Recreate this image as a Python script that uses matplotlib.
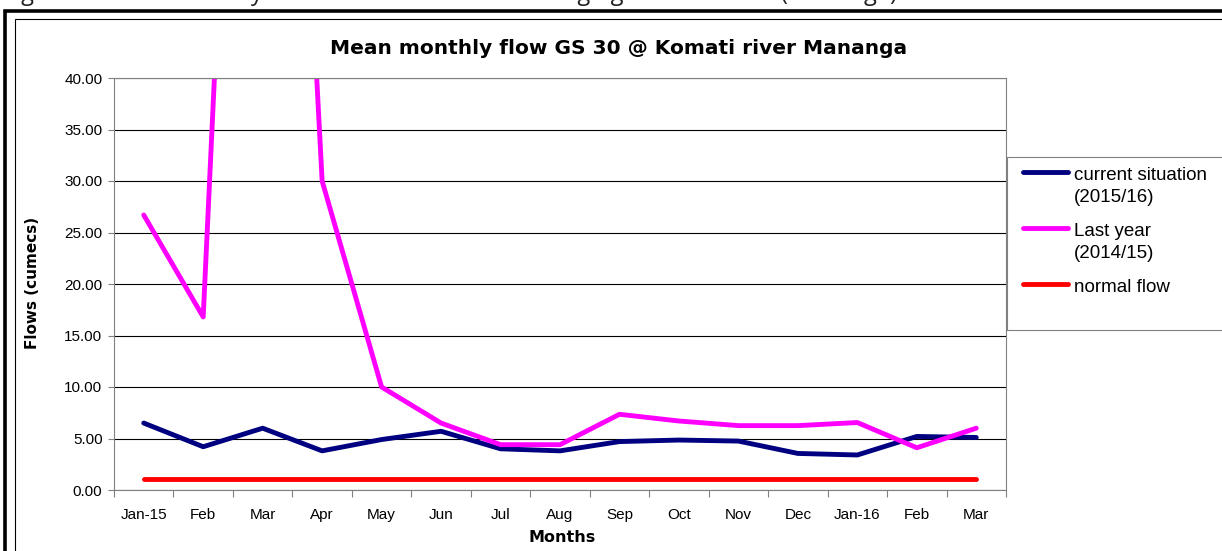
import matplotlib
matplotlib.use('Agg')
import matplotlib.pyplot as plt
from matplotlib.lines import Line2D
from matplotlib.patches import Rectangle
from matplotlib.ticker import FormatStrFormatter
import numpy as np

# values (cumecs)
months = ['Jan-15', 'Feb', 'Mar', 'Apr', 'May', 'Jun', 'Jul', 'Aug',
          'Sep', 'Oct', 'Nov', 'Dec', 'Jan-16', 'Feb', 'Mar']
current = [6.5, 4.2, 6.0, 3.8, 4.9, 5.7, 4.0, 3.8, 4.7, 4.85, 4.75, 3.55, 3.4, 5.2, 5.1]
last_year = [26.7, 16.8, 140.0, 30.0, 10.0, 6.5, 4.4, 4.4, 7.35, 6.7, 6.25, 6.25, 6.55, 4.1, 6.0]
normal = [1.1, 1.1, 1.1, 1.1, 1.1, 1.1, 1.1, 1.1, 1.1, 1.1, 1.1, 1.1, 1.1, 1.1, 1.1]

series_labels = [['current situation', '(2015/16)'],
                 ['Last year', '(2014/15)'],
                 ['normal flow']]
series_colors = ['#000080', '#FF00FF', '#FF0000']

W, H = 1222, 551
plt.rcParams['font.family'] = ['Liberation Sans', 'DejaVu Sans']
fig = plt.figure(figsize=(W / 100, H / 100), dpi=100)


def fx(px):
    return px / W


def fy(py):
    return 1 - py / H


# frames around the chart (cut off by the page edge)
fig.add_artist(Rectangle((fx(5), fy(600)), 1.2, fy(11) - fy(600), transform=fig.transFigure,
                         fill=False, edgecolor='black', lw=2.6))
fig.add_artist(Rectangle((fx(15), fy(600)), 1.2, fy(19) - fy(600), transform=fig.transFigure,
                         fill=False, edgecolor='black', lw=0.8))

# caption of the page, mostly cut off at the top
fig.text(fx(3), fy(0.5), 'Figure 3: Mean monthly flow for Komati River at Gauging station GS 30 (Mananga)',
         fontsize=17, family='Open Sans', ha='left', va='baseline', color='#222222')

ax = fig.add_axes([fx(114), fy(490), fx(1006) - fx(114), fy(78) - fy(490)])
x = np.arange(len(months))
ax.plot(x, current, color=series_colors[0], lw=3.5, solid_capstyle='round', zorder=3)
ax.plot(x, last_year, color=series_colors[1], lw=3.5, solid_capstyle='round', zorder=4)
ax.plot(x, normal, color=series_colors[2], lw=3.5, solid_capstyle='round', zorder=5)

ax.set_xlim(-0.5, len(months) - 0.5)
ax.set_ylim(0, 40)
ax.set_yticks(np.arange(0, 41, 5))
ax.yaxis.set_major_formatter(FormatStrFormatter('%.2f'))
ax.yaxis.grid(True, color='black', lw=0.8)
ax.set_axisbelow(True)
ax.set_xticks(x, months)
ax.set_xticks(np.arange(-0.5, len(months), 1), minor=True)
ax.tick_params(axis='x', which='major', length=0, pad=13, labelsize=11)
ax.tick_params(axis='x', which='minor', length=5, width=0.8, color='#808080')
ax.tick_params(axis='y', length=4.3, width=0.8, color='#808080', pad=4, labelsize=11)
for s in ax.spines.values():
    s.set_color('#808080')
    s.set_linewidth(0.8)
    s.set_zorder(6)

fig.text(fx(619), fy(48), 'Mean monthly flow GS 30 @ Komati river Mananga',
         fontsize=14.5, fontweight='bold', family='DejaVu Sans', ha='center', va='center')
fig.text(fx(33), fy(283), 'Flows (cumecs)', rotation=90, fontsize=11,
         fontweight='bold', family='DejaVu Sans', ha='center', va='center')
fig.text(fx(562), fy(538), 'Months', fontsize=11.5,
         fontweight='bold', family='DejaVu Sans', ha='center', va='center')

# legend box on the right
fig.add_artist(Rectangle((fx(1007), fy(330)), 0.3, fy(157) - fy(330), transform=fig.transFigure,
                         fill=False, edgecolor='#808080', lw=0.8))
entry_y = [172, 228, 284]
for ypos, lab, col in zip(entry_y, series_labels, series_colors):
    fig.add_artist(Line2D([fx(1023), fx(1068)], [fy(ypos), fy(ypos)], transform=fig.transFigure,
                          color=col, lw=3.5, solid_capstyle='round'))
    for k, line in enumerate(lab):
        fig.text(fx(1074), fy(ypos + 3 + 23 * k), line, fontsize=13.5, ha='left', va='center')

fig.savefig('out.png', dpi=100)
